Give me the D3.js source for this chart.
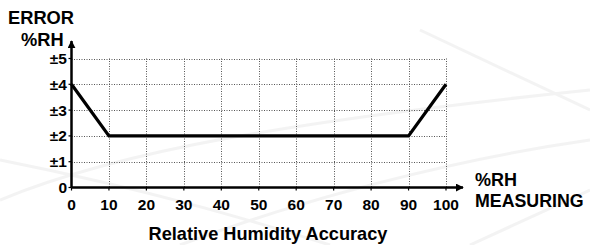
<!DOCTYPE html>
<html>
<head>
<meta charset="utf-8">
<script src="https://cdn.jsdelivr.net/npm/d3@7"></script>
<style>
  body { margin: 0; background: #fff; }
  svg { display: block; font-family: "Liberation Sans", Arial, sans-serif; font-weight: bold; }
</style>
</head>
<body>
<svg id="svg" width="590" height="245"></svg>
<script>
var width = 590, height = 245;

// data
var rhValues = [0, 10, 90, 100];
var errValues = [4, 2, 2, 4];
var xTicks = [0, 10, 20, 30, 40, 50, 60, 70, 80, 90, 100];
var yTicks = [0, 1, 2, 3, 4, 5];
var yTickLabels = ["0", "±1", "±2", "±3", "±4", "±5"];

const svg = d3.select('#svg');

// faint background streaks
var bg = svg.append("g").attr("fill", "none").attr("stroke", "#ececec").attr("stroke-width", 3).attr("opacity", 0.6);
bg.append("path").attr("d", "M0,200 C120,150 300,120 590,90");
bg.append("path").attr("d", "M180,245 C300,200 450,160 590,140");
bg.append("path").attr("d", "M0,160 C150,190 250,220 330,245");
bg.append("path").attr("d", "M420,30 L590,110");
bg.append("path").attr("d", "M470,245 L590,190");

var x = d3.scaleLinear().domain([0, 100]).range([71.5, 446]);
var y = d3.scaleLinear().domain([0, 5]).range([187.5, 58.5]);

// grid
var grid = svg.append("g").attr("stroke", "#555").attr("stroke-width", 1).attr("stroke-dasharray", "1,1.5");
grid.selectAll(".gx").data(xTicks.slice(1)).enter().append("line")
  .attr("x1", d => Math.round(x(d)) + 0.5).attr("x2", d => Math.round(x(d)) + 0.5)
  .attr("y1", y(5)).attr("y2", y(0));
grid.selectAll(".gy").data(yTicks.slice(1)).enter().append("line")
  .attr("y1", d => Math.round(y(d)) + 0.5).attr("y2", d => Math.round(y(d)) + 0.5)
  .attr("x1", x(0)).attr("x2", x(100));

// axes with arrows
svg.append("defs").append("marker")
  .attr("id", "arrow").attr("viewBox", "0 0 10 10").attr("refX", 9).attr("refY", 5)
  .attr("markerWidth", 8).attr("markerHeight", 8).attr("markerUnits", "userSpaceOnUse").attr("orient", "auto")
  .append("path").attr("d", "M0,0 L10,5 L0,10 z").attr("fill", "#000");

svg.append("line").attr("x1", x(0)).attr("x2", 463).attr("y1", y(0)).attr("y2", y(0))
  .attr("stroke", "#000").attr("stroke-width", 2.5).attr("marker-end", "url(#arrow)");
svg.append("line").attr("x1", x(0)).attr("x2", x(0)).attr("y1", y(0)).attr("y2", 41)
  .attr("stroke", "#000").attr("stroke-width", 2.5).attr("marker-end", "url(#arrow)");

// tick marks
svg.selectAll(".xt").data(xTicks).enter().append("line")
  .attr("x1", d => x(d)).attr("x2", d => x(d)).attr("y1", y(0)).attr("y2", y(0) + 3)
  .attr("stroke", "#000").attr("stroke-width", 1.2);
svg.selectAll(".yt").data(yTicks).enter().append("line")
  .attr("y1", d => y(d)).attr("y2", d => y(d)).attr("x1", x(0) - 3).attr("x2", x(0))
  .attr("stroke", "#000").attr("stroke-width", 1.2);

// tick labels
svg.selectAll(".xl").data(xTicks).enter().append("text")
  .attr("x", d => x(d)).attr("y", 210).attr("text-anchor", "middle")
  .attr("font-size", 15.5).text(d => d);
svg.selectAll(".yl").data(yTicks).enter().append("text")
  .attr("x", 67).attr("y", d => y(d) + 5.5).attr("text-anchor", "end")
  .attr("font-size", 15.5).text((d, i) => yTickLabels[i]);

// data line
var line = d3.line().x(d => x(d[0])).y(d => y(d[1]));
svg.append("path").datum(d3.zip(rhValues, errValues)).attr("d", line)
  .attr("fill", "none").attr("stroke", "#000").attr("stroke-width", 3.2).attr("stroke-linejoin", "miter");

// axis titles
svg.append("text").attr("x", 8).attr("y", 24).attr("font-size", 18.3).text("ERROR");
svg.append("text").attr("x", 21).attr("y", 46).attr("font-size", 18.3).text("%RH");
svg.append("text").attr("x", 475).attr("y", 186).attr("font-size", 18).text("%RH");
svg.append("text").attr("x", 475).attr("y", 207).attr("font-size", 17.8).text("MEASURING");

svg.append("text").attr("x", 268).attr("y", 240).attr("text-anchor", "middle")
  .attr("font-size", 18.2).text("Relative Humidity Accuracy");
</script>
</body>
</html>
